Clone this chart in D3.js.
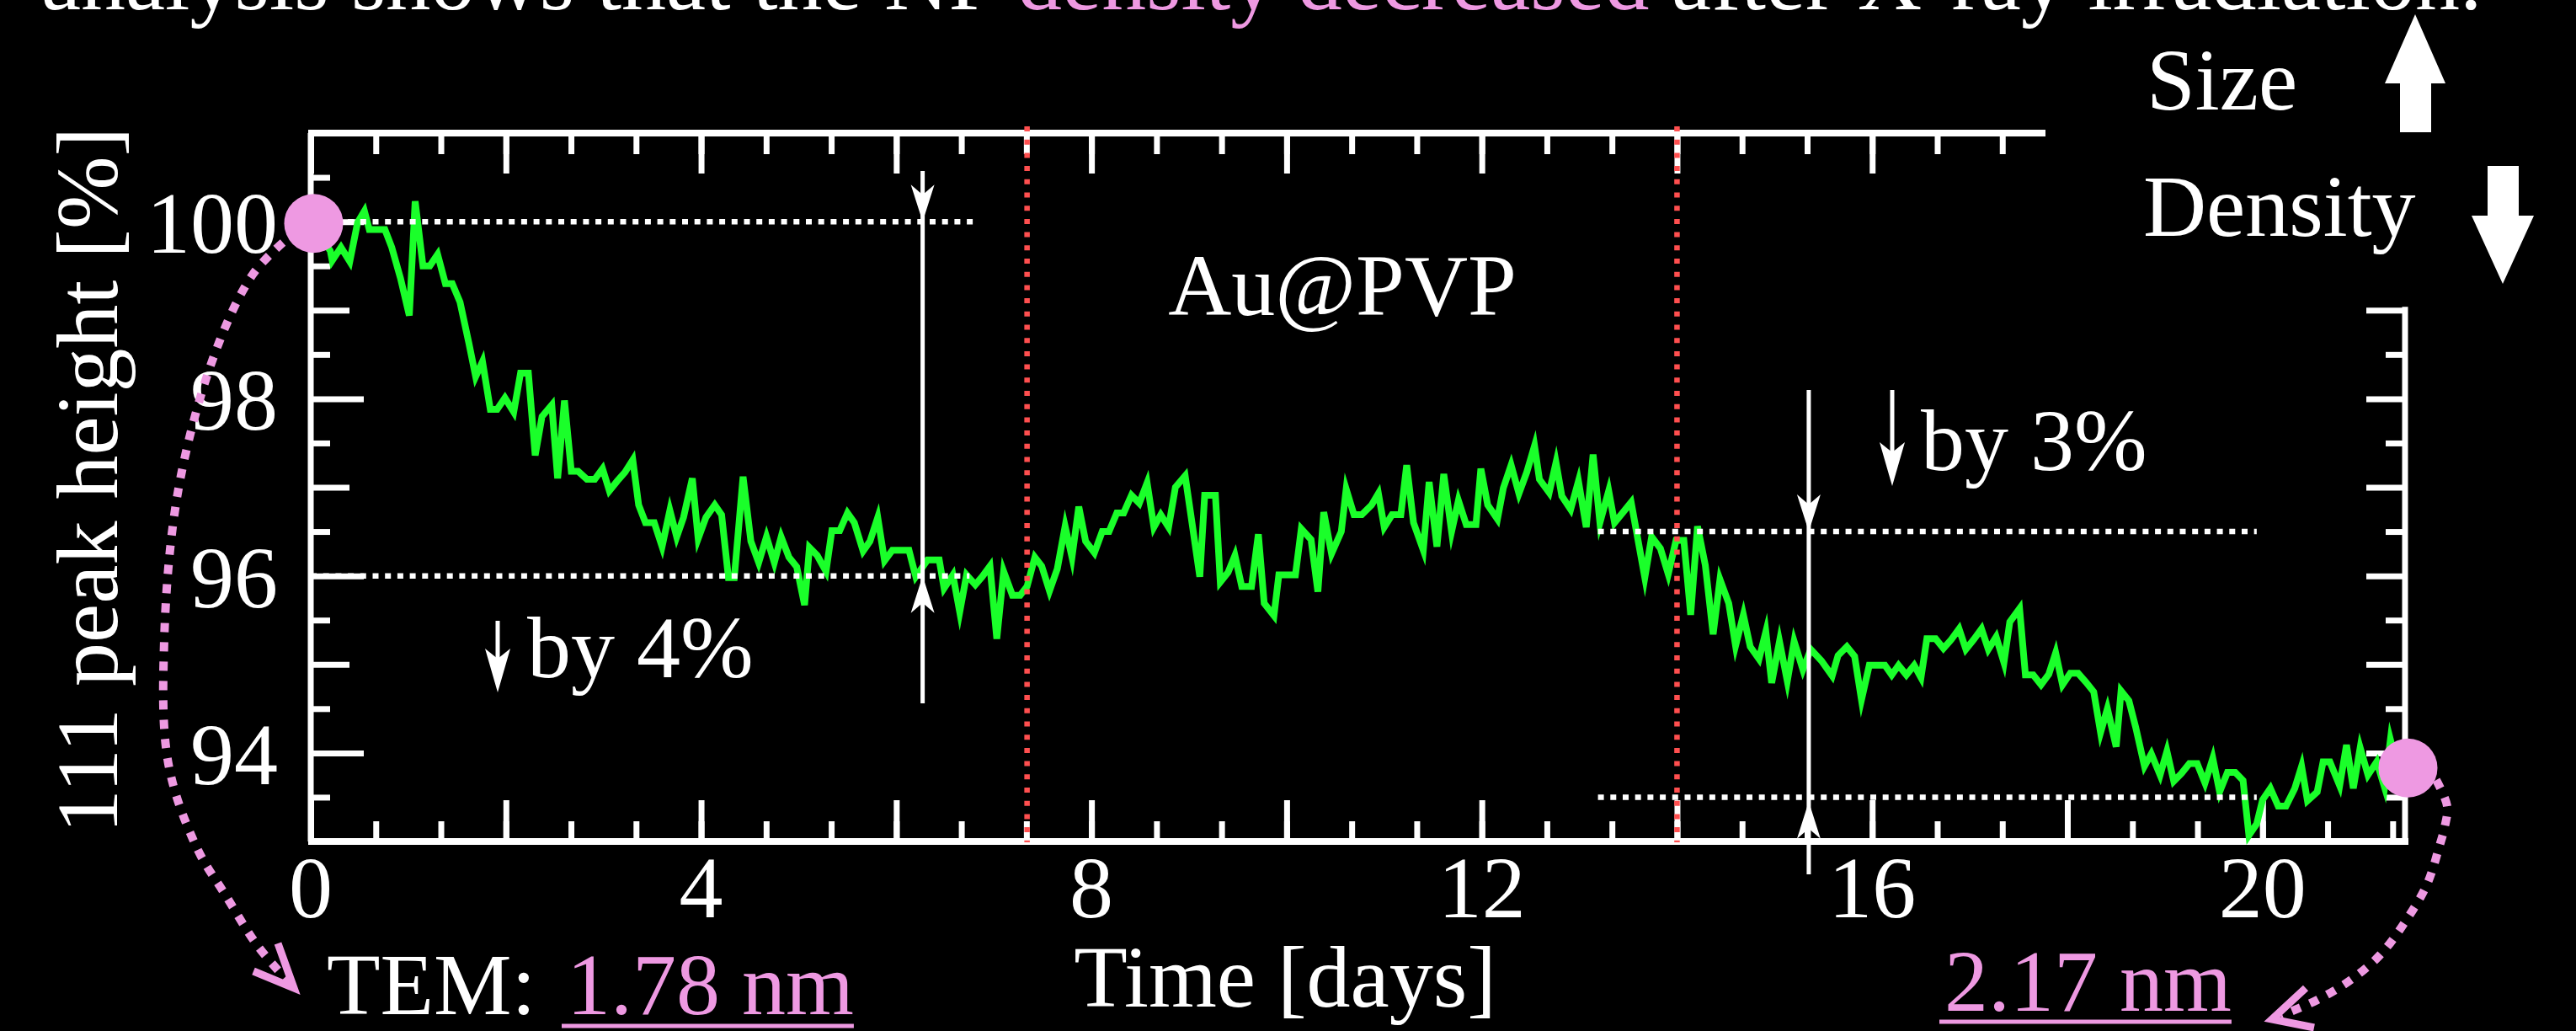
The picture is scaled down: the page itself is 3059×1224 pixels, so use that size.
<!DOCTYPE html>
<html>
<head>
<meta charset="utf-8">
<script src="https://cdn.jsdelivr.net/npm/d3@7"></script>
<style>
  html, body { margin: 0; padding: 0; background: #000; }
  svg { display: block; }
  text { font-family: "Liberation Serif", "Times New Roman", serif; fill: #fff; }
</style>
</head>
<body>
<div id="chart"></div>
<script>
// 111 peak height [%] of Au@PVP against time [days]
const peakSeries = [
  [0.00,100.00],[0.20,99.67],[0.22,99.56],[0.31,99.71],[0.40,99.55],[0.48,99.99],[0.55,100.12],[0.60,99.91],
  [0.68,99.91],[0.76,99.91],[0.83,99.71],[0.92,99.36],[1.01,98.94],[1.07,100.23],[1.15,99.50],[1.22,99.50],
  [1.30,99.63],[1.38,99.30],[1.45,99.30],[1.53,99.09],[1.62,98.63],[1.69,98.25],[1.76,98.42],[1.84,97.88],
  [1.91,97.88],[1.99,98.01],[2.08,97.85],[2.15,98.29],[2.23,98.29],[2.30,97.36],[2.37,97.80],[2.47,97.93],
  [2.53,97.10],[2.60,97.98],[2.67,97.18],[2.74,97.18],[2.83,97.09],[2.91,97.09],[2.99,97.21],[3.06,96.96],
  [3.14,97.07],[3.22,97.17],[3.30,97.31],[3.36,96.80],[3.43,96.60],[3.52,96.60],[3.60,96.33],[3.68,96.74],
  [3.75,96.44],[3.82,96.66],[3.91,97.10],[3.97,96.42],[4.05,96.66],[4.14,96.80],[4.21,96.69],[4.28,95.98],
  [4.34,95.98],[4.43,97.12],[4.51,96.39],[4.59,96.15],[4.67,96.44],[4.75,96.15],[4.82,96.44],[4.90,96.21],
  [4.98,96.10],[5.06,95.67],[5.11,96.32],[5.19,96.23],[5.28,96.05],[5.34,96.51],[5.42,96.51],[5.50,96.71],
  [5.57,96.60],[5.66,96.28],[5.73,96.39],[5.81,96.66],[5.88,96.17],[5.96,96.29],[6.03,96.29],[6.13,96.29],
  [6.20,95.99],[6.32,96.18],[6.44,96.18],[6.49,95.86],[6.58,96.01],[6.65,95.59],[6.72,96.01],[6.81,95.90],
  [6.88,95.99],[6.96,96.11],[7.03,95.29],[7.10,96.05],[7.19,95.78],[7.27,95.78],[7.34,95.88],[7.42,96.21],
  [7.49,96.11],[7.57,95.83],[7.65,96.08],[7.73,96.56],[7.80,96.21],[7.87,96.78],[7.94,96.39],[8.03,96.26],
  [8.11,96.50],[8.18,96.50],[8.26,96.71],[8.33,96.71],[8.41,96.91],[8.49,96.82],[8.57,97.05],[8.64,96.55],
  [8.71,96.69],[8.79,96.55],[8.86,97.00],[8.96,97.13],[9.03,96.60],[9.11,95.99],[9.16,96.91],[9.27,96.91],
  [9.32,95.93],[9.40,96.04],[9.47,96.23],[9.54,95.88],[9.64,95.88],[9.71,96.47],[9.77,95.69],[9.87,95.55],
  [9.92,96.01],[10.00,96.01],[10.09,96.01],[10.15,96.53],[10.25,96.41],[10.32,95.82],[10.38,96.72],[10.46,96.25],
  [10.56,96.50],[10.61,96.98],[10.69,96.69],[10.77,96.69],[10.87,96.80],[10.94,96.93],[11.00,96.55],[11.08,96.69],
  [11.17,96.69],[11.23,97.25],[11.30,96.60],[11.40,96.29],[11.46,97.06],[11.54,96.33],[11.61,97.15],[11.69,96.50],
  [11.76,96.85],[11.84,96.58],[11.94,96.58],[11.99,97.21],[12.06,96.80],[12.16,96.64],[12.22,96.99],[12.30,97.25],
  [12.38,96.93],[12.46,97.17],[12.54,97.47],[12.59,97.09],[12.69,96.94],[12.76,97.28],[12.82,96.90],[12.91,96.75],
  [12.99,97.07],[13.07,96.55],[13.14,97.37],[13.21,96.60],[13.30,96.96],[13.36,96.60],[13.53,96.83],[13.67,95.98],
  [13.74,96.44],[13.83,96.31],[13.91,96.02],[13.99,96.40],[14.07,96.40],[14.14,95.56],[14.21,96.56],[14.29,96.12],
  [14.37,95.34],[14.44,95.96],[14.53,95.69],[14.60,95.21],[14.68,95.56],[14.75,95.20],[14.84,95.06],[14.91,95.37],
  [14.97,94.79],[15.05,95.26],[15.13,94.81],[15.20,95.26],[15.29,94.94],[15.37,95.17],[15.48,95.04],[15.59,94.87],
  [15.65,95.10],[15.74,95.20],[15.82,95.09],[15.89,94.60],[15.97,94.99],[16.05,94.99],[16.13,94.99],[16.20,94.88],
  [16.27,94.99],[16.35,94.88],[16.43,94.99],[16.50,94.85],[16.56,95.29],[16.65,95.29],[16.73,95.18],[16.81,95.28],
  [16.89,95.40],[16.96,95.17],[17.04,95.28],[17.12,95.40],[17.19,95.17],[17.27,95.31],[17.35,95.02],[17.41,95.48],
  [17.51,95.63],[17.57,94.88],[17.65,94.88],[17.73,94.77],[17.81,94.89],[17.88,95.13],[17.95,94.77],[18.03,94.90],
  [18.11,94.90],[18.19,94.80],[18.27,94.69],[18.34,94.23],[18.41,94.50],[18.50,94.07],[18.55,94.70],[18.63,94.59],
  [18.70,94.29],[18.79,93.85],[18.86,93.99],[18.95,93.75],[19.02,94.02],[19.09,93.68],[19.17,93.77],[19.25,93.88],
  [19.33,93.88],[19.41,93.66],[19.49,93.94],[19.56,93.56],[19.64,93.78],[19.72,93.78],[19.80,93.69],[19.86,93.07],
  [19.94,93.20],[20.00,93.47],[20.08,93.60],[20.16,93.40],[20.24,93.40],[20.33,93.60],[20.40,93.85],[20.46,93.46],
  [20.56,93.56],[20.62,93.90],[20.69,93.90],[20.79,93.63],[20.86,94.09],[20.93,93.60],[21.00,94.06],[21.08,93.75],
  [21.17,93.90],[21.25,93.61],[21.31,94.15],[21.38,93.85]
];

const xTickLabels = [0, 4, 8, 12, 16, 20];
const yTickLabels = [94, 96, 98, 100];
const irradiationDays = [7.34, 14.0];            // red dotted markers
const startEnd = [[0.03, 99.98], [21.49, 93.83]]; // pink circles
// dotted guide levels: [fromDay, toDay, level]
const guideLines = [[0, 6.8, 100], [0, 6.75, 96], [13.19, 19.94, 96.5], [13.19, 19.94, 93.5]];

const width = 3059, height = 1224;
const pink = "#ee99e2";

const svg = d3.select("#chart").append("svg")
    .attr("width", width)
    .attr("height", height);

svg.append("rect").attr("width", width).attr("height", height).attr("fill", "#000");

const x = d3.scaleLinear().domain([0, 21.46]).range([369, 2856]);
const y = d3.scaleLinear().domain([93, 101]).range([999, 158]);

// headline (cut off by the top of the slide)
svg.append("text")
    .attr("x", 49)
    .attr("y", 11)
    .attr("font-size", 106)
    .call(t => {
        t.append("tspan").text("analysis shows that the NP ");
        t.append("tspan").style("fill", pink).text("density decreased");
        t.append("tspan").text(" after X-ray irradiation.");
    });

// --- axes ---
const minorX = d3.range(0, 33).map(i => i * 2 / 3).filter(d => d < 21.46);
const majorX = minorX.filter((d, i) => i % 3 === 0);
const halfY = d3.range(93.5, 101, 1);
const oddY = [95, 97, 99];
const evenY = [94, 96, 98, 100];
const rightMajor = [94, 95, 96, 97, 98, 99];
const rightMinor = [93.5, 94.5, 95.5, 96.5, 97.5, 98.5];

function tickAxis(axis, translate, values, size) {
    const g = svg.append("g")
        .attr("transform", translate)
        .call(axis.tickValues(values).tickSize(size).tickFormat(""));
    g.select(".domain").remove();
    g.selectAll(".tick line").attr("stroke", "#fff").attr("stroke-width", 7);
    return g;
}

tickAxis(d3.axisBottom(x), `translate(0,${y(93)})`, minorX, -24);
tickAxis(d3.axisBottom(x), `translate(0,${y(93)})`, majorX, -49);
tickAxis(d3.axisTop(x), `translate(0,${y(101)})`, minorX.filter(d => d < 17.5), -25);
tickAxis(d3.axisTop(x), `translate(0,${y(101)})`, majorX.filter(d => d < 17.5), -48);
tickAxis(d3.axisLeft(y), `translate(${x(0)},0)`, halfY, -23);
tickAxis(d3.axisLeft(y), `translate(${x(0)},0)`, oddY, -46);
tickAxis(d3.axisLeft(y), `translate(${x(0)},0)`, evenY, -63);
tickAxis(d3.axisRight(y), `translate(${x(21.46)},0)`, rightMinor, -23);
tickAxis(d3.axisRight(y), `translate(${x(21.46)},0)`, rightMajor, -46);

const frame = svg.append("g").attr("stroke", "#fff");
frame.append("line").attr("x1", x(0) - 3).attr("x2", x(21.46) + 4)
    .attr("y1", y(93)).attr("y2", y(93)).attr("stroke-width", 8);
frame.append("line").attr("x1", x(0) - 3).attr("x2", 2429)
    .attr("y1", y(101)).attr("y2", y(101)).attr("stroke-width", 8);
frame.append("line").attr("x1", x(0)).attr("x2", x(0))
    .attr("y1", y(101)).attr("y2", y(93)).attr("stroke-width", 7);
frame.append("line").attr("x1", x(21.46)).attr("x2", x(21.46))
    .attr("y1", y(99) - 4).attr("y2", y(93) + 4).attr("stroke-width", 7);

svg.append("g").selectAll("text")
    .data(xTickLabels)
    .join("text")
    .attr("x", d => x(d))
    .attr("y", 1089)
    .attr("text-anchor", "middle")
    .attr("font-size", 104)
    .text(d => d);

svg.append("g").selectAll("text")
    .data(yTickLabels)
    .join("text")
    .attr("x", 330)
    .attr("y", d => y(d) + 37)
    .attr("text-anchor", "end")
    .attr("font-size", 104)
    .text(d => d);

svg.append("text")
    .attr("transform", "translate(139,570) rotate(-90)")
    .attr("text-anchor", "middle")
    .attr("font-size", 104)
    .text("111 peak height [%]");

svg.append("text")
    .attr("x", 1526)
    .attr("y", 1195)
    .attr("text-anchor", "middle")
    .attr("font-size", 104)
    .text("Time [days]");

// --- data line ---
const line = d3.line()
    .x(d => x(d[0]))
    .y(d => y(d[1]));

svg.append("path")
    .datum(peakSeries)
    .attr("d", line)
    .attr("fill", "none")
    .attr("stroke", "#1aff2a")
    .attr("stroke-width", 8)
    .attr("stroke-linejoin", "miter")
    .attr("stroke-miterlimit", 6);

// white dotted guide levels
svg.append("g").selectAll("line")
    .data(guideLines)
    .join("line")
    .attr("x1", d => x(d[0]))
    .attr("x2", d => x(d[1]))
    .attr("y1", d => y(d[2]))
    .attr("y2", d => y(d[2]))
    .attr("stroke", "#fff")
    .attr("stroke-width", 6.5)
    .attr("stroke-dasharray", "7,7.7");

// red dotted irradiation markers
svg.append("g").selectAll("line")
    .data(irradiationDays)
    .join("line")
    .attr("x1", d => x(d))
    .attr("x2", d => x(d))
    .attr("y1", 150)
    .attr("y2", 1000)
    .attr("stroke", "#ff4f4f")
    .attr("stroke-width", 6.5)
    .attr("stroke-dasharray", "6,9.7");

// --- white arrows ---
const arrows = svg.append("g");

function notchedHead(tipX, tipY, dir, L = 44, W = 14, N = 12) {
    // dir = 1 points down, -1 points up
    arrows.append("path")
        .attr("d", `M${tipX},${tipY} L${tipX - W},${tipY - dir * L} L${tipX},${tipY - dir * (L - N)} L${tipX + W},${tipY - dir * L} Z`)
        .attr("fill", "#fff");
}

function doubleArrow(day, top, bottom, tipDown, tipUp) {
    const ax = x(day);
    arrows.append("line")
        .attr("x1", ax).attr("x2", ax)
        .attr("y1", top).attr("y2", bottom)
        .attr("stroke", "#fff").attr("stroke-width", 5);
    notchedHead(ax, y(tipDown), 1);
    notchedHead(ax, y(tipUp), -1);
}

doubleArrow(6.27, 203, 835, 100, 96);
doubleArrow(15.35, 463, 1038, 96.5, 93.45);

function smallDown(ax, top, tip) {
    arrows.append("line")
        .attr("x1", ax).attr("x2", ax)
        .attr("y1", top).attr("y2", tip - 20)
        .attr("stroke", "#fff").attr("stroke-width", 5);
    notchedHead(ax, tip, 1, 52, 15, 12);
}

smallDown(591, 737, 822);
smallDown(2247, 463, 577);

svg.append("text").attr("x", 626).attr("y", 804).attr("font-size", 104).text("by 4%");
svg.append("text").attr("x", 2281).attr("y", 558).attr("font-size", 104).text("by 3%");

svg.append("text")
    .attr("x", 1594)
    .attr("y", 374)
    .attr("text-anchor", "middle")
    .attr("font-size", 104)
    .text("Au@PVP");

// --- pink size annotations ---
const curve = d3.line().curve(d3.curveCatmullRom.alpha(0.5));

const leftPath = [[336, 288], [300, 326], [255, 420], [212, 580], [195, 760], [200, 907], [234, 1007], [268, 1063], [306, 1123], [342, 1165]];
const rightPath = [[2893, 926], [2906, 957], [2903, 982], [2897, 1004], [2882, 1050], [2857, 1093], [2827, 1133], [2792, 1163], [2752, 1187], [2708, 1206]];

svg.append("g").selectAll("path")
    .data([leftPath, rightPath])
    .join("path")
    .attr("d", curve)
    .attr("fill", "none")
    .attr("stroke", pink)
    .attr("stroke-width", 10)
    .attr("stroke-dasharray", "11,12");

svg.append("g").selectAll("polyline")
    .data([
        [[330, 1120], [349, 1173], [301, 1153]],
        [[2738, 1173], [2698, 1210], [2748, 1220]]
    ])
    .join("polyline")
    .attr("points", d => d.join(" "))
    .attr("fill", "none")
    .attr("stroke", pink)
    .attr("stroke-width", 9);

svg.append("g").selectAll("circle")
    .data(startEnd)
    .join("circle")
    .attr("cx", d => x(d[0]))
    .attr("cy", d => y(d[1]))
    .attr("r", 35)
    .attr("fill", pink);

svg.append("text").attr("x", 388).attr("y", 1204).attr("font-size", 104).text("TEM:");

function underlined(tx, ty, uy, label) {
    const t = svg.append("text")
        .attr("x", tx).attr("y", ty)
        .attr("font-size", 104)
        .style("fill", pink)
        .text(label);
    const w = t.node().getComputedTextLength();
    svg.append("line")
        .attr("x1", tx - 6).attr("x2", tx + w)
        .attr("y1", uy).attr("y2", uy)
        .attr("stroke", pink).attr("stroke-width", 5);
}

underlined(673, 1204, 1218, "1.78 nm");
underlined(2309, 1200, 1213, "2.17 nm");

// --- Size / Density legend ---
svg.append("text").attr("x", 2549).attr("y", 130).attr("font-size", 104).text("Size");
svg.append("text").attr("x", 2545).attr("y", 280).attr("font-size", 104).text("Density");

svg.append("polygon")
    .attr("points", "2868,17 2904,99 2887,99 2887,157 2850,157 2850,99 2832,99")
    .attr("fill", "#fff");
svg.append("polygon")
    .attr("points", "2954,197 2991,197 2991,256 3009,256 2972,337 2935,256 2954,256")
    .attr("fill", "#fff");
</script>
</body>
</html>
